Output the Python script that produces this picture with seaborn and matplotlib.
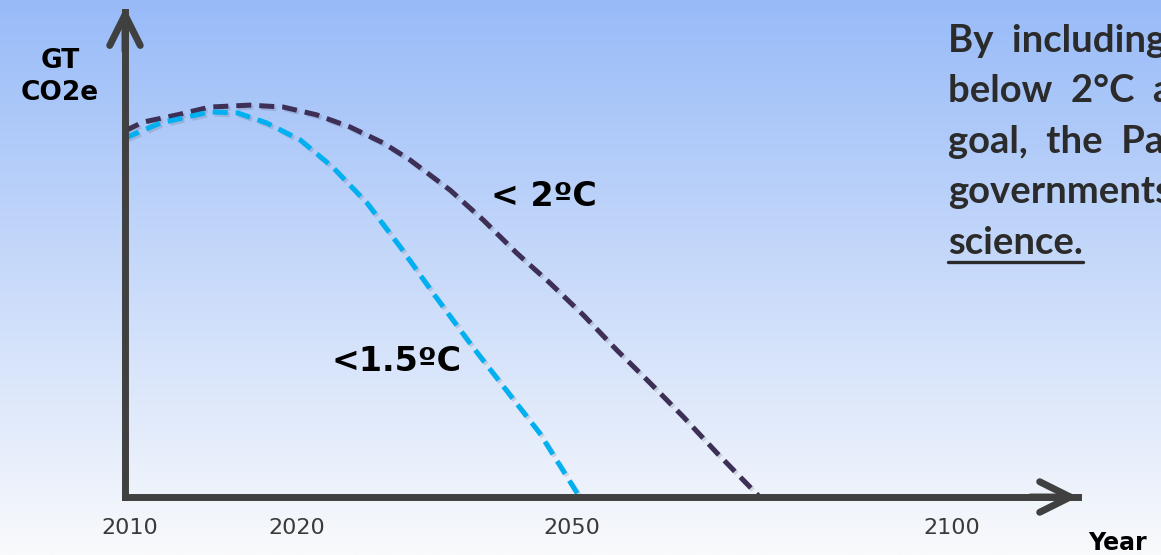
import matplotlib
matplotlib.use("Agg")
import matplotlib.pyplot as plt
import matplotlib.patheffects as pe
import numpy as np
import seaborn as sns

# schematic axis units: 0..100 from origin to arrow tip
tick_pos = [0.5, 18.0, 46.9, 86.8]
tick_labels = ["2010", "2020", "2050", "2100"]

x_2c = [0, 1.9, 5.5, 8.9, 13.1, 16.6, 20.1, 23.6, 27.1, 29.9, 34.1, 37.6,
        41.1, 44.6, 48.1, 51.6, 55.1, 58.6, 62.1, 66.6]
y_2c = [75.5, 77.3, 78.8, 80.4, 80.8, 80.4, 78.8, 76.3, 73.0, 69.5, 63.3, 57.1,
        50.3, 44.1, 37.5, 30.3, 23.5, 16.5, 9.1, 0]

x_15c = [0, 3.7, 8.9, 11.8, 14.9, 18.4, 21.8, 25.4, 28.9, 32.3, 36.5, 43.5, 47.7]
y_15c = [74.0, 77.1, 79.4, 79.2, 77.1, 73.6, 68.0, 60.6, 51.5, 42.1, 30.9, 13.2, 0]

side_lines = ["By  including", "below  2\u00b0C  a", "goal,  the  Pa",
              "governments", "science."]

W, H = 1161, 555
AX_COL = "#404040"

sns.set_style("white")
plt.rcParams["font.family"] = ["DejaVu Sans"]

fig = plt.figure(figsize=(W / 100, H / 100), dpi=100)

# gradient background
bg = fig.add_axes([0, 0, 1, 1])
top = np.array([152, 187, 248]) / 255
bot = np.array([249, 250, 252]) / 255
t = np.linspace(0, 1, 256)[:, None]
grad = top[None, :] * (1 - t) + bot[None, :] * t
bg.imshow(grad[:, None, :], aspect="auto", extent=[0, 1, 0, 1])
bg.set_axis_off()

ax = fig.add_axes([125 / W, 58 / H, 953 / W, 485 / H])
ax.set_facecolor("none")
ax.set_xlim(0, 100)
ax.set_ylim(0, 100)

shadow = [pe.SimplePatchShadow(offset=(2, -2), alpha=0.25), pe.Normal()]
for side in ["top", "right"]:
    ax.spines[side].set_visible(False)
for side in ["left", "bottom"]:
    sp = ax.spines[side]
    sp.set_color(AX_COL)
    sp.set_linewidth(5)
    sp.set_capstyle("projecting")
    sp.set_path_effects(shadow)

# arrow heads
arrow = dict(arrowstyle="->,head_length=1.1,head_width=0.55", lw=5, color=AX_COL,
             shrinkA=0, shrinkB=0, mutation_scale=20, capstyle="round",
             joinstyle="round")
ax.annotate("", xy=(0, 101), xytext=(0, 92), arrowprops=arrow,
            annotation_clip=False)
ax.annotate("", xy=(100, 0), xytext=(95, 0), arrowprops=arrow,
            annotation_clip=False)

line_fx = [pe.SimpleLineShadow(offset=(1.5, -1.5), shadow_color="#303040",
                               alpha=0.15), pe.Normal()]
sns.lineplot(x=x_2c, y=y_2c, ax=ax, color="#3d2f55", lw=3.6,
             linestyle=(0, (3, 1.6)), estimator=None, sort=False)
sns.lineplot(x=x_15c, y=y_15c, ax=ax, color="#00b0f0", lw=3.6,
             linestyle=(0, (3, 1.6)), estimator=None, sort=False)
for ln in ax.lines:
    ln.set_path_effects(line_fx)
    ln.set_clip_on(False)

ax.set_xticks(tick_pos, tick_labels)
ax.set_yticks([])
ax.tick_params(axis="x", length=0, pad=15, labelsize=16, labelcolor="#3a3a3a")

ax.text(28.5, 28, "<1.5\u00baC", fontsize=24, fontweight="bold", color="black",
        ha="center", va="center")
ax.text(44.0, 62, "< 2\u00baC", fontsize=24, fontweight="bold", color="black",
        ha="center", va="center")

fig.text(60 / W, 1 - 77 / H, "GT\nCO2e", fontsize=19, fontweight="bold",
         ha="center", va="center", linespacing=1.35, color="black")
fig.text(1088 / W, 1 - 550 / H, "Year", fontsize=17, fontweight="bold",
         ha="left", va="baseline", color="black")

baselines = [52, 102, 153, 203, 254]
texts = []
for s, yb in zip(side_lines, baselines):
    texts.append(fig.text(948 / W, 1 - yb / H, s, fontsize=27.5, fontweight="bold",
                          family=["Lato", "DejaVu Sans"], color="#2b2b2b",
                          ha="left", va="baseline"))

fig.canvas.draw()
bb = texts[-1].get_window_extent()
uy = 1 - 262 / H
fig.add_artist(plt.Line2D([bb.x0 / W, bb.x1 / W], [uy, uy], color="#2b2b2b",
                          lw=2.4, transform=fig.transFigure))

fig.savefig("out.png", dpi=100)
